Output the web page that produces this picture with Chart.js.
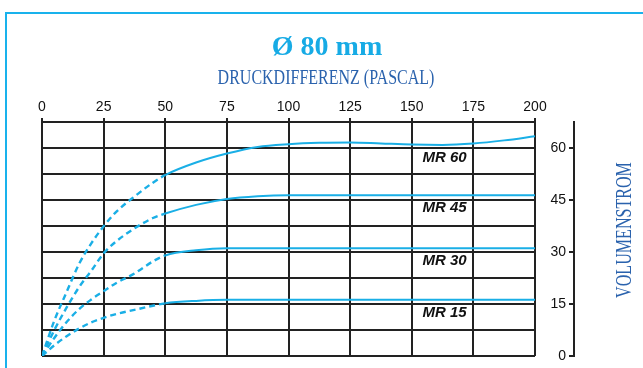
<!DOCTYPE html>
<html>
<head>
<meta charset="utf-8">
<script src="https://cdn.jsdelivr.net/npm/chart.js@4.4.0/dist/chart.umd.min.js"></script>
<style>
  html, body { margin: 0; padding: 0; background: #fff; }
  #wrap { position: relative; width: 643px; height: 368px; overflow: hidden; }
  #rahmen { position: absolute; left: 5px; top: 12px; right: -4px; bottom: -4px;
            border-left: 2px solid #19b2ec; border-top: 2px solid #19b2ec; }
  #wrap canvas { position: absolute; left: 0; top: 0; }
</style>
</head>
<body>
<div id="wrap">
  <div id="rahmen"></div>
  <canvas id="kennlinie" width="643" height="368"></canvas>
</div>
<script>
// Druckdifferenz (Pa) und Volumenstrom je Kurve
var druck = [0, 5, 10, 15, 20, 25, 30, 37.5, 45, 50, 62.5, 75, 87.5, 100, 112.5, 125, 137.5, 150, 162.5, 175, 187.5, 200];
var mr15 = [0, 3.1, 5.7, 7.9, 9.7, 11, 12.1, 13.3, 14.5, 15.2, 15.9, 16.2, 16.2, 16.2, 16.2, 16.2, 16.2, 16.2, 16.2, 16.2, 16.2, 16.2];
var mr30 = [0, 5.2, 9.8, 13.5, 16.3, 18.7, 21, 23.8, 27.3, 29, 30.5, 31.1, 31.1, 31.1, 31.1, 31.1, 31.1, 31.1, 31.1, 31.1, 31.1, 31.1];
var mr45 = [0, 7.5, 14, 19.8, 24.6, 29.6, 33, 36.8, 39.8, 41.1, 43.6, 45.3, 46.1, 46.4, 46.4, 46.4, 46.4, 46.4, 46.4, 46.4, 46.4, 46.4];
var mr60 = [0, 10.2, 18.5, 26.5, 32.5, 37.4, 41.5, 46, 50, 52.2, 55.8, 58.4, 60.3, 61.1, 61.5, 61.6, 61.3, 61.0, 60.9, 61.3, 62.2, 63.4];
var kurvenNamen = ['MR 15', 'MR 30', 'MR 45', 'MR 60'];
var druckTicks = [0, 25, 50, 75, 100, 125, 150, 175, 200];
var volumenTicks = [0, 15, 30, 45, 60];
var gestrichelt_bis = 50;   // unterhalb davon gestrichelt
var labelIndex = 18;        // Beschriftung bei 162,5 Pa

var blau = '#1aafe6';
var dunkelblau = '#2a62ad';
var schwarz = '#222';

function punkte(werte) {
  return druck.map(function (x, i) { return { x: x, y: werte[i] }; });
}

var datasets = [mr15, mr30, mr45, mr60].map(function (werte, i) {
  return {
    label: kurvenNamen[i],
    data: punkte(werte),
    borderColor: blau,
    borderWidth: 2,
    pointRadius: 0,
    cubicInterpolationMode: 'monotone',
    segment: {
      borderDash: function (ctx) { return ctx.p1.parsed.x <= gestrichelt_bis ? [6, 4] : undefined; },
      borderWidth: function (ctx) { return ctx.p1.parsed.x <= gestrichelt_bis ? 2.4 : 2; }
    }
  };
});

var beschriftung = {
  id: 'beschriftung',
  afterDraw: function (chart) {
    var ctx = chart.ctx;
    ctx.save();
    ctx.textAlign = 'center';
    ctx.textBaseline = 'alphabetic';

    ctx.fillStyle = '#17abe5';
    ctx.font = 'bold 28px "Liberation Serif"';
    ctx.fillText('Ø 80 mm', 327, 55);

    ctx.save();
    ctx.translate(326, 84);
    ctx.scale(0.8, 1);
    ctx.fillStyle = dunkelblau;
    ctx.font = '20px "Liberation Serif"';
    ctx.fillText('DRUCKDIFFERENZ (PASCAL)', 0, 0);
    ctx.restore();

    ctx.save();
    ctx.translate(631, 230);
    ctx.rotate(-Math.PI / 2);
    ctx.scale(0.67, 1);
    ctx.fillStyle = dunkelblau;
    ctx.font = '24px "Liberation Serif"';
    ctx.fillText('VOLUMENSTROM', 0, 0);
    ctx.restore();

    ctx.font = 'italic bold 15px "Liberation Sans"';
    ctx.fillStyle = '#111';
    ctx.textBaseline = 'middle';
    chart.data.datasets.forEach(function (ds, i) {
      var pt = chart.getDatasetMeta(i).data[labelIndex];
      ctx.fillText(ds.label, pt.x + 2, pt.y + 13);
    });
    ctx.restore();
  }
};

var tickFont = { family: 'Liberation Sans', size: 14 };

new Chart(document.getElementById('kennlinie'), {
  type: 'line',
  data: { datasets: datasets },
  options: {
    responsive: false,
    animation: false,
    layout: { padding: { left: 42, right: 68, top: 88, bottom: 12 } },
    plugins: { legend: { display: false }, tooltip: { enabled: false } },
    scales: {
      x: {
        type: 'linear', position: 'top', min: 0, max: 200,
        afterBuildTicks: function (s) { s.ticks = druckTicks.map(function (v) { return { value: v }; }); },
        ticks: { padding: 2, color: '#111', font: tickFont, maxRotation: 0 },
        grid: { color: schwarz, lineWidth: 2, tickLength: 4 },
        border: { color: schwarz, width: 2 },
        afterFit: function (s) { s.height = 34; }
      },
      y: {
        type: 'linear', position: 'left', min: 0, max: 67.5,
        ticks: { stepSize: 7.5, display: false },
        grid: { color: schwarz, lineWidth: 2, drawTicks: false },
        border: { display: false },
        afterFit: function (s) { s.width = 0; }
      },
      abstand: {
        type: 'linear', position: 'right', weight: 0,
        ticks: { display: false },
        grid: { display: false },
        border: { display: false },
        afterFit: function (s) { s.width = 39; }
      },
      volumen: {
        type: 'linear', position: 'right', weight: 1, min: 0, max: 67.5,
        afterBuildTicks: function (s) { s.ticks = volumenTicks.map(function (v) { return { value: v }; }); },
        ticks: { mirror: true, padding: -8, color: '#111', font: tickFont },
        grid: { display: true, drawOnChartArea: false, drawTicks: true, tickLength: -5, color: schwarz, lineWidth: 2 },
        border: { display: true, color: schwarz, width: 2 },
        afterFit: function (s) { s.width = 1; }
      }
    }
  },
  plugins: [beschriftung]
});
</script>
</body>
</html>
